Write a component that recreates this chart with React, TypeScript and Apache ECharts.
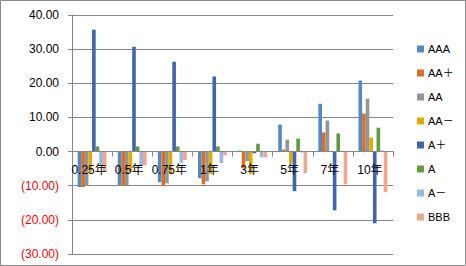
import React, { useEffect, useRef } from "react";
import * as echarts from "echarts";

const cats = ["0.25年", "0.5年", "0.75年", "1年", "3年", "5年", "7年", "10年"];
const seriesNames = ["AAA", "AA＋", "AA", "AA－", "A＋", "A", "A－", "BBB"];
const colors = ["#528AC4", "#DA6F2A", "#959595", "#E2AA00", "#3F65AF", "#629B3F", "#97B9E0", "#F1A88A"];

const AAA = [-10.4, -9.8, -9.0, -7.8, 0.3, 7.9, 14.0, 20.8];
const AAplus = [-10.4, -10.1, -10.1, -9.6, -4.9, 0.6, 5.6, 11.1];
const AA = [-10.0, -9.8, -9.3, -8.7, -2.8, 3.5, 9.1, 15.5];
const AAminus = [-6.0, -5.8, -6.3, -6.6, -6.6, -3.4, 0.0, 4.1];
const Aplus = [35.7, 30.7, 26.3, 22.0, -0.5, -11.6, -17.2, -21.0];
const A = [1.5, 1.5, 1.5, 1.5, 2.3, 3.8, 5.3, 7.0];
const Aminus = [-4.0, -4.0, -3.3, -3.4, -1.7, -0.3, 0.0, 0.3];
const BBB = [-6.0, -4.0, -2.5, -1.1, -1.7, -6.3, -9.6, -11.9];

const yMin = -30;
const yMax = 40;
const yInterval = 10;

export default function App() {
  const ref = useRef<HTMLDivElement>(null);
  useEffect(() => {
    if (!ref.current) return;
    const chart = echarts.init(ref.current, undefined, { renderer: "svg" });
    const data = [AAA, AAplus, AA, AAminus, Aplus, A, Aminus, BBB];
    const font = "'Liberation Sans', Arial, 'Noto Sans CJK JP', sans-serif";
    const gridTop = 15;
    const gridBottom = 12;
    const plotH = 266 - gridTop - gridBottom;
    const zeroFromBottom = (plotH * (0 - yMin)) / (yMax - yMin);
    chart.setOption({
      animation: false,
      textStyle: { fontFamily: font },
      grid: { left: 72, right: 73, top: gridTop, bottom: gridBottom, containLabel: false, outerBoundsMode: "none" },
      graphic: [
        {
          type: "rect",
          shape: { x: 0.5, y: 0.5, width: 465, height: 265 },
          style: { fill: "none", stroke: "#888888", lineWidth: 1 },
          silent: true,
        },
      ],
      legend: {
        orient: "vertical",
        left: 412,
        top: 38,
        itemWidth: 7,
        itemHeight: 7,
        itemGap: 12,
        icon: "rect",
        textStyle: { fontSize: 11, color: "#000", fontFamily: font, lineHeight: 12, padding: [0, 0, 0, -1] },
        data: seriesNames,
      },
      xAxis: {
        type: "category",
        data: cats,
        position: "bottom",
        offset: -zeroFromBottom,
        z: 5,
        axisLine: { onZero: false, lineStyle: { color: "#868686", width: 1 } },
        axisTick: { show: true, length: 5, lineStyle: { color: "#868686" } },
        axisLabel: { fontSize: 12, color: "#000", margin: 12, interval: 0, fontFamily: font, padding: [0, 6, 0, 0] },
        splitLine: { show: false },
      },
      yAxis: {
        type: "value",
        min: yMin,
        max: yMax,
        interval: yInterval,
        axisLine: { show: true, lineStyle: { color: "#868686", width: 1 } },
        axisTick: { show: true, length: 4, lineStyle: { color: "#868686" } },
        splitLine: { show: true, lineStyle: { color: "#868686", width: 1 } },
        axisLabel: {
          fontSize: 12,
          margin: 13,
          fontFamily: font,
          formatter: (v: number) => (v < 0 ? "(" + Math.abs(v).toFixed(2) + ")" : v.toFixed(2)),
          color: (v: any) => (Number(v) < 0 ? "#FF0000" : "#000000"),
        },
      },
      series: seriesNames.map((name, i) => ({
        name,
        type: "bar",
        data: data[i],
        barGap: "0%",
        barCategoryGap: "28%",
        z: 2,
        itemStyle: { color: colors[i] },
      })),
    });
    return () => chart.dispose();
  }, []);
  return (
    <div
      ref={ref}
      style={{ position: "absolute", left: 0, top: 0, width: 466, height: 266, background: "#fff" }}
    />
  );
}
